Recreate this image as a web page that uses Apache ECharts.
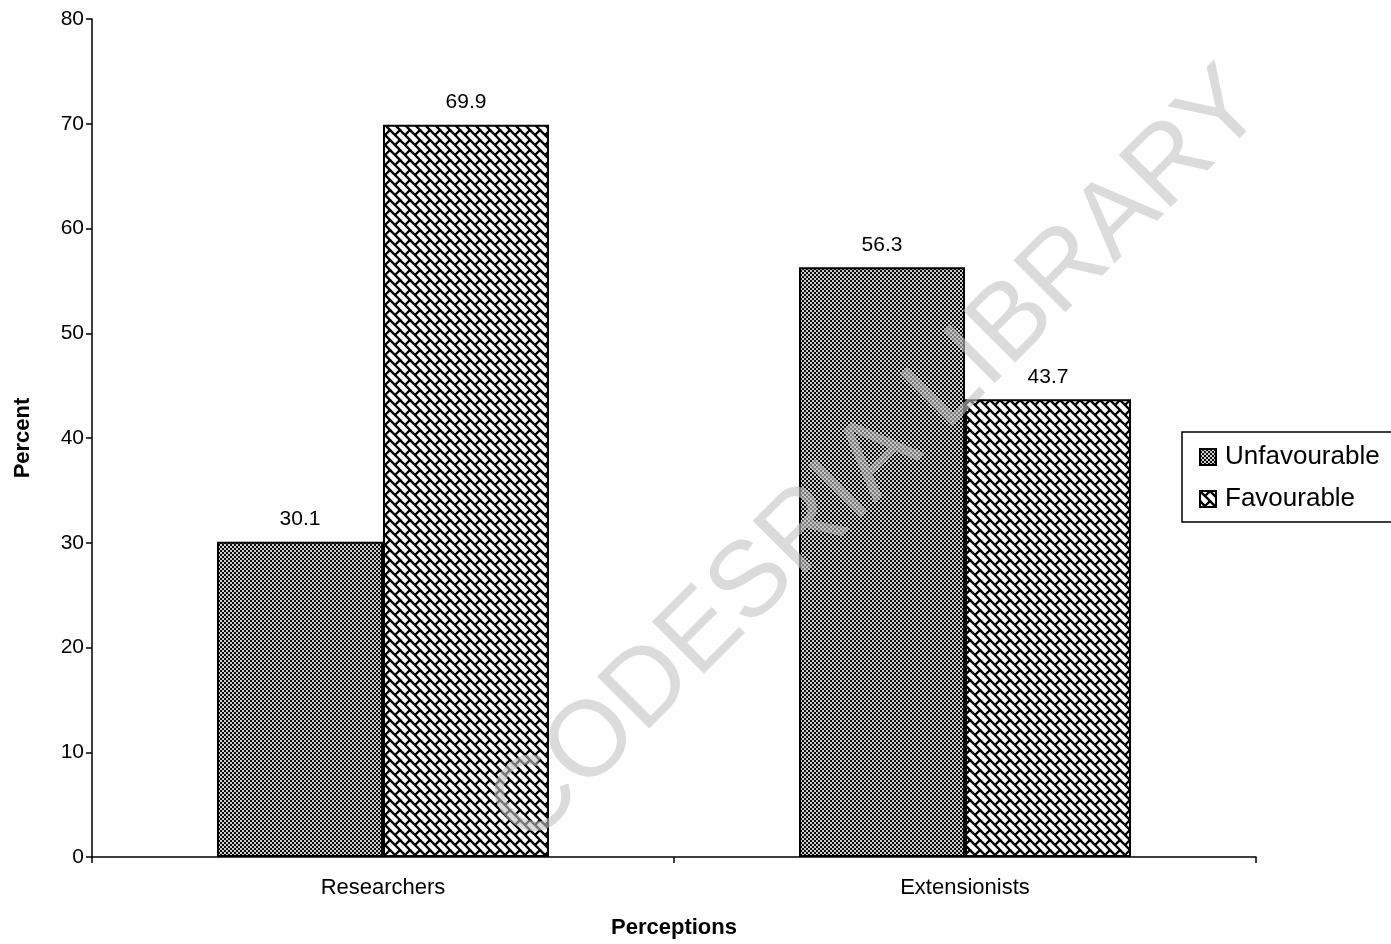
<!DOCTYPE html>
<html>
<head>
<meta charset="utf-8">
<title>Perceptions</title>
<script src="https://cdn.jsdelivr.net/npm/echarts@6/dist/echarts.min.js"></script>
<style>
  html, body { margin: 0; padding: 0; background: #fff; }
  #chart { width: 1391px; height: 944px; }
</style>
</head>
<body>
<div id="chart"></div>
<script>
// Categories and values
const categories = ['Researchers', 'Extensionists'];
const unfavourable = [30.1, 56.3];
const favourable = [69.9, 43.7];
const yTicks = [0, 10, 20, 30, 40, 50, 60, 70, 80];

// Dense dark checker fill
function checkerPattern() {
  const c = document.createElement('canvas');
  c.width = 4; c.height = 4;
  const g = c.getContext('2d');
  g.fillStyle = '#0c0c0c';
  g.fillRect(0, 0, 4, 4);
  g.fillStyle = '#cfcfcf';
  g.fillRect(0, 0, 2, 2);
  g.fillRect(2, 2, 2, 2);
  return c;
}

// Diagonal brick fill
function brickPattern() {
  const s = 10;
  const c = document.createElement('canvas');
  c.width = s; c.height = s;
  const g = c.getContext('2d');
  g.fillStyle = '#fff';
  g.fillRect(0, 0, s, s);
  g.strokeStyle = '#000';
  g.lineWidth = 2.3;
  g.lineCap = 'butt';
  for (let dx = -s; dx <= s; dx += s) {
    for (let dy = -s; dy <= s; dy += s) {
      g.beginPath();
      g.moveTo(dx - 1, dy - 1);
      g.lineTo(dx + s + 1, dy + s + 1);
      g.stroke();
      g.beginPath();
      g.moveTo(dx + s / 2, dy + s / 2);
      g.lineTo(dx + s, dy);
      g.stroke();
    }
  }
  return c;
}

const unfavFill = { image: checkerPattern(), repeat: 'repeat' };
const favFill = { image: brickPattern(), repeat: 'repeat' };

const font = 'Liberation Sans, Arial, sans-serif';

const chart = echarts.init(document.getElementById('chart'), null, { renderer: 'canvas' });

chart.setOption({
  backgroundColor: '#fff',
  animation: false,
  textStyle: { fontFamily: font, color: '#000' },
  grid: { left: 92, right: 135, top: 19, bottom: 87, containLabel: false, outerBoundsMode: 'none' },
  legend: {
    orient: 'vertical',
    left: 1182,
    top: 432,
    padding: [12, 30, 10, 17],
    itemGap: 16,
    itemWidth: 16,
    itemHeight: 16,
    icon: 'rect',
    borderColor: '#000',
    borderWidth: 1.5,
    textStyle: { fontSize: 26, color: '#000', fontFamily: font, padding: [0, 0, 0, 4] },
    data: ['Unfavourable', 'Favourable']
  },
  xAxis: {
    type: 'category',
    data: categories,
    name: 'Perceptions',
    nameLocation: 'middle',
    nameGap: 60,
    nameTextStyle: { fontSize: 22, fontWeight: 'bold', color: '#000' },
    axisLine: { lineStyle: { color: '#000', width: 1.5 } },
    axisTick: { show: true, length: 6, inside: false, lineStyle: { color: '#000', width: 1.5 } },
    axisLabel: { fontSize: 22, color: '#000', margin: 20 },
    splitLine: { show: false }
  },
  yAxis: {
    type: 'value',
    min: 0,
    max: 80,
    interval: 10,
    name: 'Percent',
    nameLocation: 'middle',
    nameGap: 58,
    nameTextStyle: { fontSize: 22, fontWeight: 'bold', color: '#000' },
    axisLine: { show: true, lineStyle: { color: '#000', width: 1.5 } },
    axisTick: { show: true, length: 6, lineStyle: { color: '#000', width: 1.5 } },
    axisLabel: {
      fontSize: 21, color: '#000', margin: 8,
      formatter: v => (yTicks.indexOf(v) >= 0 ? String(v) : '')
    },
    splitLine: { show: false }
  },
  series: [
    {
      name: 'Unfavourable',
      type: 'bar',
      data: unfavourable,
      barWidth: 166,
      barGap: '0%',
      itemStyle: { color: unfavFill, borderColor: '#000', borderWidth: 2 },
      label: { show: true, position: 'top', distance: 12, fontSize: 21, color: '#000', formatter: p => p.value.toFixed(1) }
    },
    {
      name: 'Favourable',
      type: 'bar',
      data: favourable,
      barWidth: 166,
      barGap: '0%',
      itemStyle: { color: favFill, borderColor: '#000', borderWidth: 2 },
      label: { show: true, position: 'top', distance: 12, fontSize: 21, color: '#000', formatter: p => p.value.toFixed(1) }
    }
  ],
  graphic: [
    {
      type: 'text',
      x: 878,
      y: 458,
      rotation: 45 * Math.PI / 180,
      z: 100,
      silent: true,
      style: {
        text: 'CODESRIA LIBRARY',
        font: '107px Liberation Sans, Arial, sans-serif',
        fill: 'rgba(195,195,195,0.6)',
        textAlign: 'center',
        textVerticalAlign: 'middle'
      }
    }
  ]
});
</script>
</body>
</html>
